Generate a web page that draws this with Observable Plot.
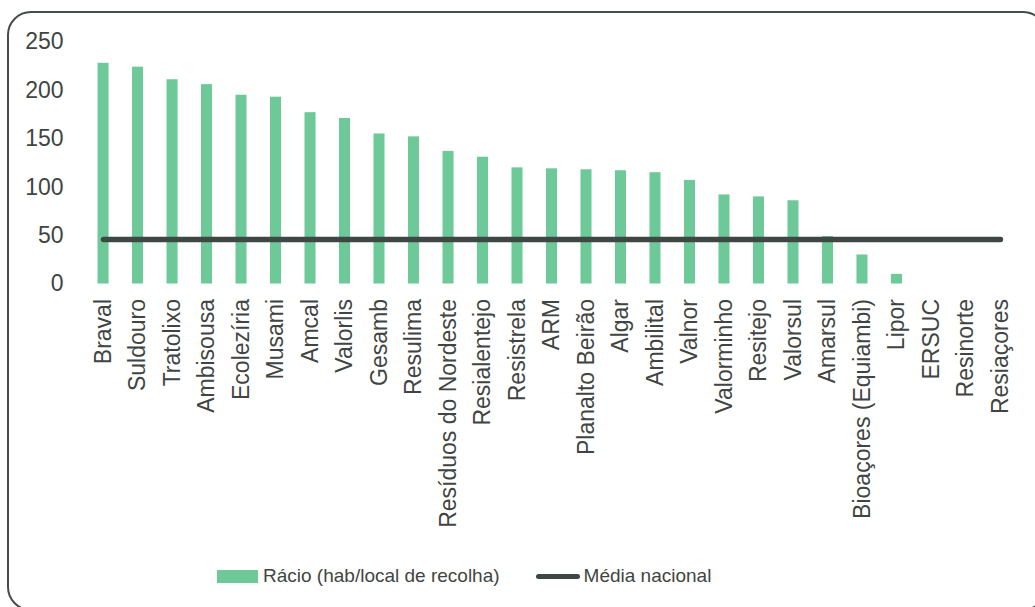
<!DOCTYPE html>
<html>
<head>
<meta charset="utf-8">
<script src="https://cdn.jsdelivr.net/npm/d3@7"></script>
<script src="https://cdn.jsdelivr.net/npm/@observablehq/plot@0.6"></script>
<style>
  body { margin: 0; background: #fff; font-family: "Liberation Sans", Arial, sans-serif; }
  #wrap { position: relative; width: 1035px; height: 607px; overflow: hidden; }
  #frame { position: absolute; left: 7px; top: 11px; width: 1040px; height: 600px; border: 2px solid #474c4a; border-radius: 24px; box-sizing: border-box; }
  #chart { position: absolute; left: 0; top: 0; }
  #legend { position: absolute; left: 217px; top: 565px; display: flex; align-items: center; font-size: 19px; color: #3f4542; white-space: nowrap; }
  .sw-bar { width: 41px; height: 13px; background: #6dca98; margin-right: 5px; }
  .sw-line { width: 44px; height: 5px; border-radius: 3px; background: #3f4744; margin-right: 4px; margin-left: 36px; }
</style>
</head>
<body>
<div id="wrap">
  <div id="frame"></div>
  <div id="chart"></div>
  <div id="legend">
    <div class="sw-bar"></div><span>Rácio (hab/local de recolha)</span>
    <div class="sw-line"></div><span>Média nacional</span>
  </div>
</div>
<script>
const categories = ["Braval","Suldouro","Tratolixo","Ambisousa","Ecolezíria","Musami","Amcal","Valorlis","Gesamb","Resulima","Resíduos do Nordeste","Resialentejo","Resistrela","ARM","Planalto Beirão","Algar","Ambilital","Valnor","Valorminho","Resitejo","Valorsul","Amarsul","Bioaçores (Equiambi)","Lipor","ERSUC","Resinorte","Resiaçores"];
const racio = [228,224,211,206,195,193,177,171,155,152,137,131,120,119,118,117,115,107,92,90,86,49,30,10,0,0,0];
const mediaNacional = 46;
const yTicks = [0,50,100,150,200,250];

const data = categories.map((c, i) => ({name: c, racio: racio[i], media: mediaNacional}));

const chart = Plot.plot({
  width: 1035,
  height: 545,
  marginLeft: 72,
  marginRight: 4,
  marginTop: 41.5,
  marginBottom: 261.5,
  style: {fontFamily: "'Liberation Sans', Arial, sans-serif", fontSize: "23px", color: "#3f4542", background: "transparent", overflow: "visible"},
  x: {domain: categories, round: false, paddingInner: 0.68, paddingOuter: 0.74, label: null, tickSize: 0, tickPadding: 15, tickRotate: -90},
  y: {domain: [0, 250], ticks: yTicks, label: null, tickSize: 0, tickPadding: 9},
  marks: [
    Plot.barY(data, {x: "name", y: "racio", fill: "#6dca98"}),
    Plot.lineY(data, {x: "name", y: "media", stroke: "#3f4744", strokeWidth: 5.5, strokeLinecap: "round"})
  ]
});
document.getElementById("chart").appendChild(chart);
</script>
</body>
</html>
